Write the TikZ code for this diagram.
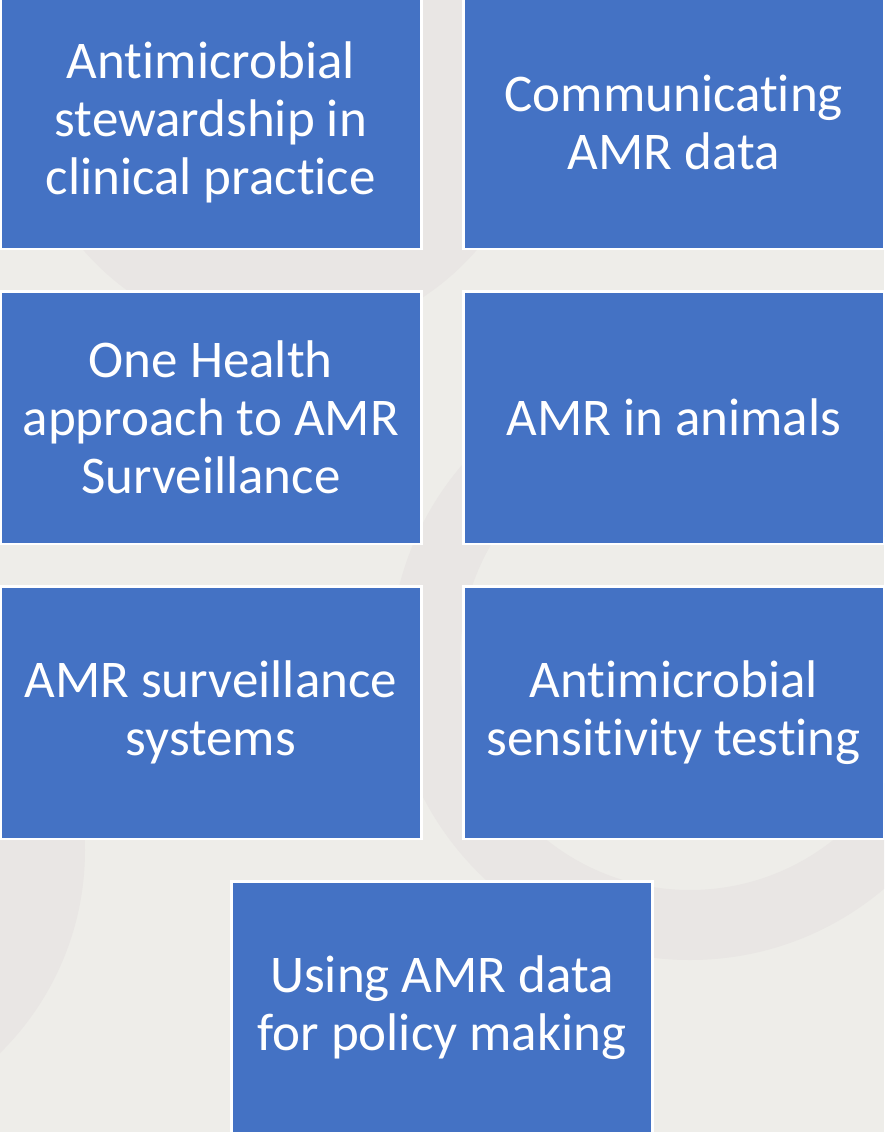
\documentclass[tikz,border=0pt]{standalone}
\usepackage{fontspec}
\setmainfont{Carlito}[Ligatures={NoCommon,NoDiscretionary,NoContextual}]
\definecolor{amrblue}{HTML}{4472C4}
\definecolor{slidebg}{HTML}{EEEDE9}
\definecolor{slidering}{HTML}{E9E6E4}
\tikzset{
  amrbox/.style={rectangle, fill=amrblue, draw=white, line width=2.7pt,
    minimum width=421pt, minimum height=252.7pt, inner sep=0pt,
    text=white, align=center, font=\fontsize{53}{58}\selectfont}
}
\begin{document}
\begin{tikzpicture}[x=1pt, y=-1pt]
            \useasboundingbox (0,0) rectangle (884,1132);
            \clip (0,0) rectangle (884,1132);
            \fill[slidebg] (0,0) rectangle (884,1132);
            % faint rings of the slide background
            \fill[slidering] (280,80) circle (260);
            \fill[slidering, even odd rule] (690,660) circle (300) (690,660) circle (230);
            \fill[slidering] (-200,850) circle (285);
            \node[amrbox] (stewardship) at (210.8,122.7) {Antimicrobial\\stewardship in\\clinical practice};
            \node[amrbox] (communicating) at (673.8,122.7) {Communicating\\AMR data};
            \node[amrbox] (onehealth) at (210.8,417.7) {One Health\\approach to AMR\\Surveillance};
            \node[amrbox] (animals) at (673.8,417.7) {AMR in animals};
            \node[amrbox] (systems) at (210.8,712.7) {AMR surveillance\\systems};
            \node[amrbox] (sensitivity) at (673.8,712.7) {Antimicrobial\\sensitivity testing};
            \node[amrbox] (policy) at (442,1008) {Using AMR data\\for policy making};
        \end{tikzpicture}
\end{document}
